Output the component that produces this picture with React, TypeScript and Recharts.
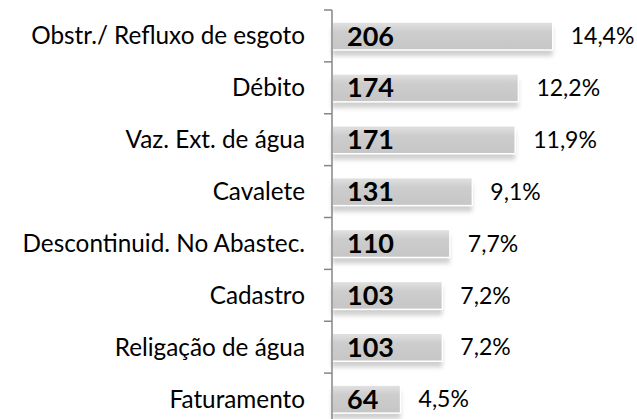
import { BarChart, Bar, XAxis, YAxis, LabelList } from "recharts";

const categories = [
  "Obstr./ Refluxo de esgoto",
  "Débito",
  "Vaz. Ext. de água",
  "Cavalete",
  "Descontinuid. No Abastec.",
  "Cadastro",
  "Religação de água",
  "Faturamento",
];
const counts = [206, 174, 171, 131, 110, 103, 103, 64];
const shares = [14.4, 12.2, 11.9, 9.1, 7.7, 7.2, 7.2, 4.5];

const data = categories.map((name, i) => ({ name, value: counts[i], pct: shares[i] }));

const W = 637;
const H = 430;
const M = { top: 10, right: 5, bottom: 5, left: 0 };
const BAND = (H - M.top - M.bottom) / categories.length;
const FONT = "Lato, 'Open Sans', sans-serif";

function CategoryTick(props: any) {
  const { x, y, payload } = props;
  return (
    <g>
      <line x1={x - 8} x2={x} y1={y - BAND / 2} y2={y - BAND / 2} stroke="#868686" strokeWidth={1.5} />
      <text x={x - 27} y={y} dy="0.35em" textAnchor="end" fontSize={24.3} fill="#000" fontFamily={FONT}>
        {payload.value}
      </text>
    </g>
  );
}

function ShadowBar(props: any) {
  const { x, y, width, height } = props;
  return (
    <g>
      <rect x={x} y={y + 6} width={width} height={height} fill="#b0b0b0" opacity={0.6} filter="url(#barBlur)" />
      <rect x={x} y={y} width={width} height={height} fill="url(#barGrad)" stroke="#ffffff" strokeWidth={1.5} />
    </g>
  );
}

export default function App() {
  return (
    <div style={{ position: "absolute", left: 0, top: 0, width: W, height: H, background: "#fff" }}>
      <BarChart width={W} height={H} data={data} layout="vertical" margin={M} barCategoryGap={0}>
        <defs>
          <linearGradient id="barGrad" x1="0" y1="0" x2="0" y2="1">
            <stop offset="0%" stopColor="#e2e2e2" />
            <stop offset="35%" stopColor="#cdcdcd" />
            <stop offset="100%" stopColor="#c6c6c6" />
          </linearGradient>
          <filter id="barBlur" x="-10%" y="-50%" width="120%" height="200%">
            <feGaussianBlur stdDeviation="2" />
          </filter>
        </defs>
        <XAxis type="number" domain={[0, 280]} hide />
        <YAxis
          type="category"
          dataKey="name"
          width={332}
          tickSize={0}
          tickMargin={0}
          tickLine={false}
          axisLine={{ stroke: "#868686", strokeWidth: 1.5 }}
          tick={<CategoryTick />}
          interval={0}
        />
        <Bar dataKey="value" barSize={28} shape={<ShadowBar />} isAnimationActive={false}>
          <LabelList
            dataKey="value"
            position="insideLeft"
            offset={15}
            fill="#000"
            fontSize={27}
            fontWeight="bold"
            fontFamily={FONT}
          />
          <LabelList
            dataKey="pct"
            position="right"
            offset={18}
            fill="#000"
            fontSize={23}
            fontFamily={FONT}
            formatter={(v: any) => `${Number(v).toFixed(1).replace(".", ",")}%`}
          />
        </Bar>
      </BarChart>
    </div>
  );
}
